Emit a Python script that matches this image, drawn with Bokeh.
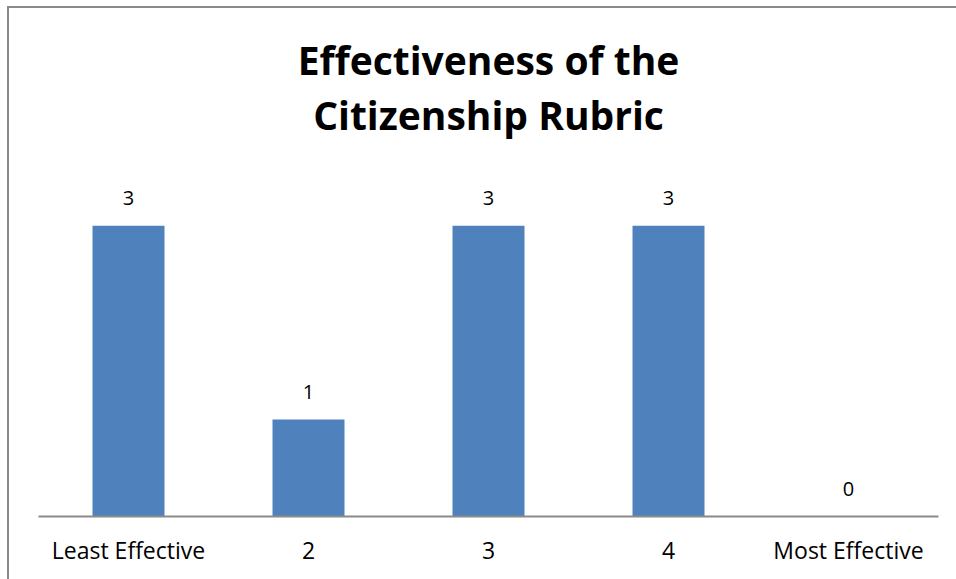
from bokeh.plotting import figure
from bokeh.models import ColumnDataSource, Title, Range1d, FactorRange, InlineStyleSheet
from bokeh.core.properties import value
from bokeh.embed import file_html
from bokeh.resources import INLINE

categories = ["Least Effective", "2", "3", "4", "Most Effective"]
counts = [3, 1, 3, 3, 0]
title_lines = ["Effectiveness of the", "Citizenship Rubric"]

FONT = "Open Sans"
BAR = "#4F81BD"
GRAY = "#8a8a8a"

src = ColumnDataSource(data=dict(cat=categories, n=counts, lbl=[str(c) for c in counts]))

p = figure(width=956, height=579, x_range=FactorRange(*categories, range_padding=0),
           y_range=Range1d(0, 3.88), output_backend="svg", toolbar_location=None,
           min_border_left=38, min_border_right=18, min_border_bottom=63, min_border_top=100)
p.title.visible = False
p.background_fill_color = "white"
p.border_fill_color = "white"
p.outline_line_color = None
p.grid.visible = False
p.yaxis.visible = False

p.add_layout(Title(text=title_lines[1], align="center", text_font=FONT, text_font_size="39px",
                   text_font_style="bold", text_color="black", standoff=0), "above")
p.add_layout(Title(text=title_lines[0], align="center", text_font=FONT, text_font_size="39px",
                   text_font_style="bold", text_color="black", standoff=0), "above")
p.add_layout(Title(text=" ", align="center", text_font=FONT, text_font_size="13px"), "above")

p.vbar(x="cat", top="n", width=0.4, source=src, fill_color=BAR, line_color=None)
p.text(x="cat", y="n", text="lbl", source=src, text_align="center", text_baseline="bottom",
       y_offset=-21, text_font=value(FONT), text_font_size="20px", text_color="black")

ax = p.xaxis[0]
ax.axis_line_color = GRAY
ax.axis_line_width = 2
ax.major_tick_line_color = None
ax.minor_tick_line_color = None
ax.major_label_standoff = 11
ax.major_label_text_font = FONT
ax.major_label_text_font_size = "23px"
ax.major_label_text_color = "black"

p.stylesheets = [InlineStyleSheet(css="""
:host { position: relative; }
:host::after {
  content: ""; position: absolute; left: 7px; top: 6px; right: 0; bottom: 0;
  border-left: 2px solid #8a8a8a; border-top: 2px solid #8a8a8a;
  pointer-events: none; z-index: 100;
}
""")]

open("out.html", "w").write(file_html(p, INLINE))
